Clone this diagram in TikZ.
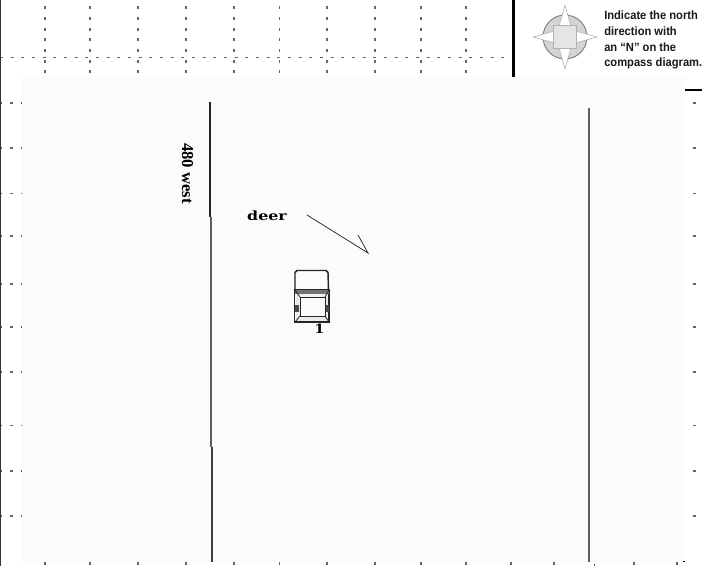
\documentclass[tikz,border=0pt]{standalone}
\usepackage{fontspec}
\setmainfont{Liberation Serif}
\newfontfamily\capfont{Liberation Sans}
\newfontfamily\handfont{DejaVu Serif}
\definecolor{panel}{HTML}{FCFAFB}
\definecolor{roadgray}{HTML}{5E5E5E}
\definecolor{tickgray}{HTML}{666666}
\tikzset{
  vtick/.style={draw=tickgray,line width=1pt},
  htick/.style={draw=tickgray,line width=0.85pt},
  road/.style={draw=roadgray,line width=1.2pt},
  cardraw/.style={draw=black!85,line width=1.1pt},
  caption/.style={anchor=west,inner sep=0pt,text=black!90,font=\capfont\bfseries\fontsize{9}{9}\selectfont,xscale=0.93},
  hand/.style={inner sep=0pt,text=black}
}
\begin{document}
\begin{tikzpicture}[x=0.75pt,y=-0.75pt]
\useasboundingbox (0,0) rectangle (702,566);
\fill[white] (0,0) rectangle (702,566);
% dotted grid above the panel
\foreach \x in {45,90,138,186,234,279.5,327,375,421,466}{
  \foreach \y in {8,19,30,40,51,62,72}{
    \draw[vtick] (\x,\y-1.5) -- (\x,\y+1.5);
  }
  \draw[vtick] (\x,561.5) -- (\x,564.5);
}
\foreach \x in {511,554,634,677}{\draw[vtick] (\x,561.5) -- (\x,564.5);}
\draw[vtick,line width=0.6pt] (594,564) -- (594,566);
\draw[htick,dash pattern=on 2.25pt off 5.75pt] (0,57.5) -- (505,57.5);
% side ticks
\foreach \y in {103,148,193.7,236,284,327,372,425.7,471,516}{
  \draw[htick] (0,\y) -- (2,\y);
  \draw[htick] (10,\y) -- (13,\y);
  \draw[htick] (20.5,\y) -- (22,\y);
  \draw[htick] (692.5,\y) -- (695.5,\y);
}
% panel
\fill[panel] (22,77) rectangle (685,562);
\fill[black] (683,560.5) rectangle (685,562);
% frame pieces
\fill[black!80] (0,0) rectangle (1.2,566);
\fill[black] (512,0) rectangle (514.5,77);
\fill[black] (685,89.5) rectangle (702,91.5);
% compass
\coordinate (cc) at (565,37);
\draw[black!50,fill=black!17,line width=0.7pt] (cc) circle[radius=22];
\fill[white,draw=black!30,line width=0.45pt] (565,5) -- (572,30) -- (597,37) -- (572,44) -- (565,69) -- (558,44) -- (533,37) -- (558,30) -- cycle;
\fill[black!10,draw=black!30,line width=0.6pt] (553.5,25.5) rectangle (576.5,48);
% caption
\node[caption] (c1) at (604,15.5) {Indicate the north};
\node[caption] (c2) at (604,31.5) {direction with};
\node[caption] (c3) at (604,47.5) {an “N” on the};
\node[caption] (c4) at (604,63.5) {compass diagram.};
% roads
\draw[draw=black!85,line width=0.95pt] (210,102) -- (210,217);
\draw[road] (211,217) -- (211,447);
\draw[draw=black!75,line width=1.3pt] (212.3,447) -- (212.3,562);
\draw[road] (589,108) -- (589,562);
% labels
\node[hand,rotate=-90,font=\bfseries\fontsize{12.5}{14}\selectfont] (west) at (187.5,173.5) {480 west};
\node[hand,font=\handfont\bfseries\fontsize{9.5}{11}\selectfont,xscale=1.25] (deer) at (267,216) {deer};
% arrow
\coordinate (a0) at (307,215);
\coordinate (a1) at (368,253);
\coordinate (a2) at (358,235);
\draw[black!80,line width=0.6pt] (a0) -- (a1) -- (a2);
% car
\draw[cardraw] (295,290) -- (295,272.5) -- (297,270.5) -- (326,270.5) -- (328,272.5) -- (328.5,290);
\fill[black!8] (296,290) rectangle (328,322);
\draw[cardraw] (294.5,290) rectangle (329,322);
\fill[black!55] (295,290) rectangle (328.5,294);
\fill[black!5] (301,295) -- (324,295) -- (326,297) -- (299,297) -- cycle;
\fill[panel] (300,297) rectangle (325,316);
\draw[black!85,line width=0.7pt] (300,297) rectangle (325,316);
\draw[black!85,line width=0.6pt] (295,290) -- (300,297) (329,290) -- (325,297) (295,322) -- (300,316) (329,322) -- (325,316);
\fill[black!70] (295,305) rectangle (299,312);
\fill[black!70] (326,305) rectangle (328.5,312);
\node[hand,font=\handfont\bfseries\fontsize{9.5}{11}\selectfont,xscale=1.1] (one) at (319.5,329) {1};
\end{tikzpicture}
\end{document}
